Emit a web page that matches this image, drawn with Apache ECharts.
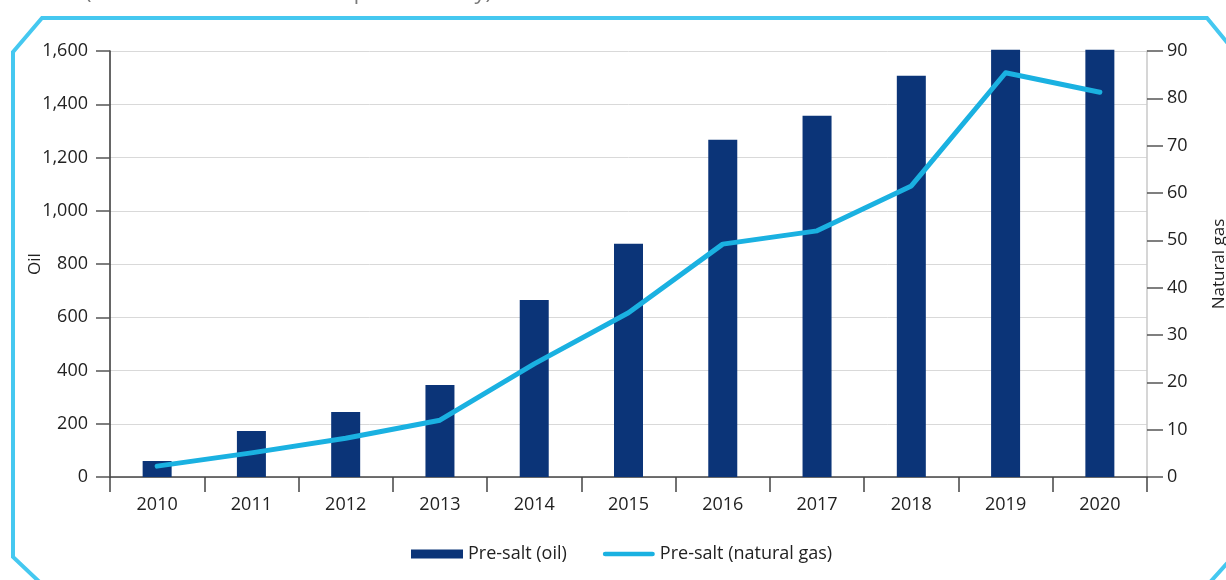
<!DOCTYPE html>
<html>
<head>
<meta charset="utf-8">
<script src="https://cdn.jsdelivr.net/npm/echarts@6/dist/echarts.min.js"></script>
<style>
html,body{margin:0;padding:0;background:#fff;}
#chart{width:1226px;height:580px;}
</style>
</head>
<body>
<div id="chart"></div>
<script>
const years = ['2010','2011','2012','2013','2014','2015','2016','2017','2018','2019','2020'];
const oilValues = [60, 173, 244, 346, 665, 876, 1267, 1357, 1507, 1605, 1605];
const gasValues = [2.3, 5.1, 8.2, 12.0, 23.9, 34.7, 49.2, 52.0, 61.5, 85.4, 81.3];
const oilName = 'Pre-salt (oil)';
const gasName = 'Pre-salt (natural gas)';
const titleText = '(Thousand barrels of oil equivalent/day)';

const FONT = '"Open Sans", "Noto Sans", sans-serif';
const TXT = '#222';

const chart = echarts.init(document.getElementById('chart'), null, {renderer:'canvas'});
chart.setOption({
  animation: false,
  backgroundColor: '#fff',
  textStyle: {fontFamily: FONT, color: TXT},
  graphic: [
    {
      type: 'polygon',
      silent: true,
      shape: {points: [[13,52],[42,18],[1207,18],[1240,58],[1240,549],[1203,590],[48,590],[13,557]]},
      style: {fill: 'none', stroke: '#45C8F0', lineWidth: 4}
    },
    {
      type: 'text',
      silent: true,
      x: 85, y: 4,
      style: {text: titleText, fontSize: 22, fontFamily: FONT, fill: '#7a7a7a', verticalAlign: 'bottom'}
    }
  ],
  grid: {left: 110, right: 79, top: 51, bottom: 103, containLabel: false, outerBoundsMode: 'none'},
  legend: {
    left: 406, top: 540,
    itemWidth: 52, itemHeight: 9, itemGap: 36,
    textStyle: {fontSize: 18, color: TXT, fontFamily: FONT},
    data: [
      {name: oilName, icon: 'rect'},
      {name: gasName, icon: 'path://M2.5,0 H52.5 A2.5,2.5 0 0 1 52.5,5 H2.5 A2.5,2.5 0 0 1 2.5,0 Z'}
    ]
  },
  xAxis: {
    type: 'category',
    data: years,
    boundaryGap: true,
    axisLine: {lineStyle: {color: '#444', width: 1.5}},
    axisTick: {show: true, alignWithLabel: false, length: 15, lineStyle: {color: '#444', width: 1.5}},
    axisLabel: {fontSize: 18, color: TXT, margin: 19, fontFamily: FONT},
    splitLine: {show: false}
  },
  yAxis: [
    {
      type: 'value', min: 0, max: 1600, interval: 200,
      name: 'Oil', nameLocation: 'middle', nameGap: 66, nameRotate: 90, nameMoveOverlap: false,
      nameTextStyle: {fontSize: 17, color: TXT, fontFamily: FONT},
      axisLine: {show: true, lineStyle: {color: '#333', width: 1.5}},
      axisTick: {show: true, length: 14, lineStyle: {color: '#555', width: 1.5}},
      axisLabel: {fontSize: 18, color: TXT, margin: 22, fontFamily: FONT,
        formatter: v => v.toLocaleString('en-US')},
      splitLine: {show: true, lineStyle: {color: '#d9d9d9', width: 1}}
    },
    {
      type: 'value', min: 0, max: 90, interval: 10, position: 'right',
      name: 'Natural gas', nameLocation: 'middle', nameGap: 64, nameRotate: 90, nameMoveOverlap: false,
      nameTextStyle: {fontSize: 17, color: TXT, fontFamily: FONT},
      axisLine: {show: true, lineStyle: {color: '#c8c8c8', width: 1.5}},
      axisTick: {show: true, length: 16, lineStyle: {color: '#555', width: 1.5}},
      axisLabel: {fontSize: 18, color: TXT, margin: 20, fontFamily: FONT},
      splitLine: {show: false}
    }
  ],
  series: [
    {
      name: oilName, type: 'bar', yAxisIndex: 0, data: oilValues,
      barWidth: 29, clip: false,
      itemStyle: {color: '#0B3478'}, z: 2
    },
    {
      name: gasName, type: 'line', yAxisIndex: 1, data: gasValues,
      symbol: 'none', showSymbol: false,
      lineStyle: {color: '#1AB1E1', width: 5, cap: 'round', join: 'round'},
      itemStyle: {color: '#1AB1E1'}, z: 3
    }
  ]
});
</script>
</body>
</html>
